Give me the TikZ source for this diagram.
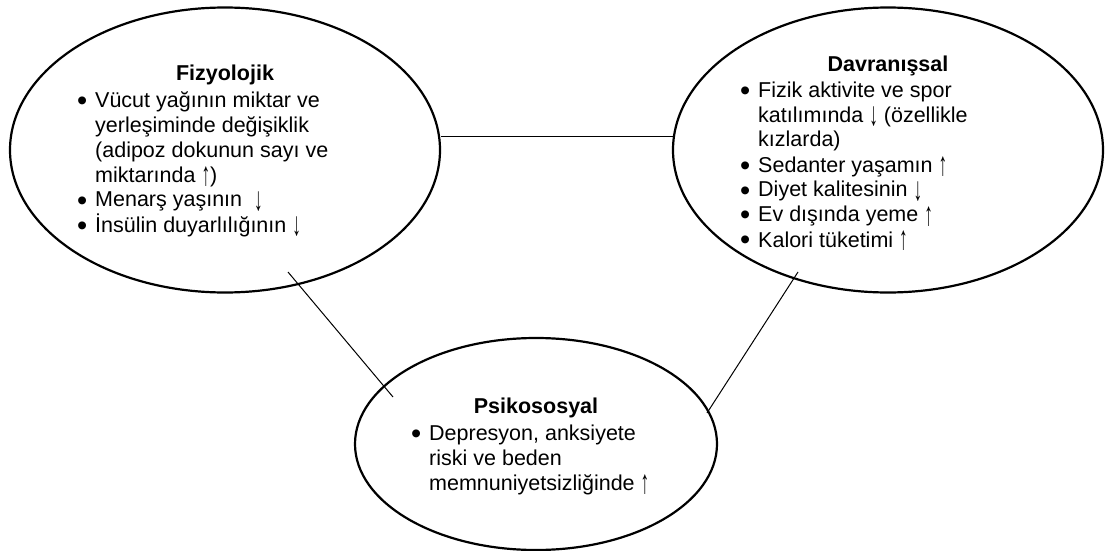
\documentclass[tikz,border=0pt]{standalone}
\usepackage{fontspec}
\usepackage{graphicx}
\setmainfont{Liberation Sans}
\usetikzlibrary{shapes.geometric}
\newcommand{\bl}{\makebox[18pt][l]{\raisebox{-3pt}{\scalebox{1.35}{•}}}}
\newcommand{\ind}{\hspace*{18pt}}
\newcommand{\uarr}{\raisebox{-3pt}{\scalebox{0.8}[1.55]{↑}}}
\newcommand{\darr}{\raisebox{-3pt}{\scalebox{0.8}[1.55]{↓}}}
\tikzset{
  every node/.style={font=\fontsize{21.5}{25}\selectfont, inner sep=0pt},
  oval/.style={ellipse, draw, line width=2.2pt, inner sep=0pt},
  title/.style={anchor=base, font=\fontsize{21.5}{25}\selectfont\bfseries},
  body/.style={anchor=base west},
  link/.style={line width=1pt}
}
\begin{document}
\begin{tikzpicture}[x=1pt,y=-1pt]
\useasboundingbox (0,0) rectangle (1106,551);
% ellipses
\node[oval, minimum width=430pt, minimum height=285pt] (fiz) at (225,150) {};
\node[oval, minimum width=430pt, minimum height=285pt] (dav) at (888,150) {};
\node[oval, minimum width=362pt, minimum height=212pt] (psi) at (536,444) {};
% titles
\node[title] (fizt) at (225,81) {Fizyolojik};
\node[title] (davt) at (888,71) {Davranışsal};
\node[title] (psit) at (536,413) {Psikososyal};
% bodies
\node[body] (fizb) at (77,107) {\parbox[t]{340pt}{\raggedright
\bl Vücut yağının miktar ve\\
\ind yerleşiminde değişiklik\\
\ind (adipoz dokunun sayı ve\\
\ind miktarında \uarr)\\
\bl Menarş yaşının \ \darr\\
\bl İnsülin duyarlılığının \darr}};
\node[body] (davb) at (740,97) {\parbox[t]{340pt}{\raggedright
\bl Fizik aktivite ve spor\\
\ind katılımında \darr{} (özellikle\\
\ind kızlarda)\\
\bl Sedanter yaşamın \uarr\\
\bl Diyet kalitesinin \darr\\
\bl Ev dışında yeme \uarr\\
\bl Kalori tüketimi \uarr}};
\node[body] (psib) at (411,440) {\parbox[t]{340pt}{\raggedright
\bl Depresyon, anksiyete\\
\ind riski ve beden\\
\ind memnuniyetsizliğinde \uarr}};
% connectors
\coordinate (h1) at (441,136);
\coordinate (h2) at (673,136);
\coordinate (l1) at (288,272);
\coordinate (l2) at (393,397);
\coordinate (r1) at (798,272);
\coordinate (r2) at (707,413);
\draw[link] (h1) -- (h2);
\draw[link] (l1) -- (l2);
\draw[link] (r1) -- (r2);
\end{tikzpicture}
\end{document}
